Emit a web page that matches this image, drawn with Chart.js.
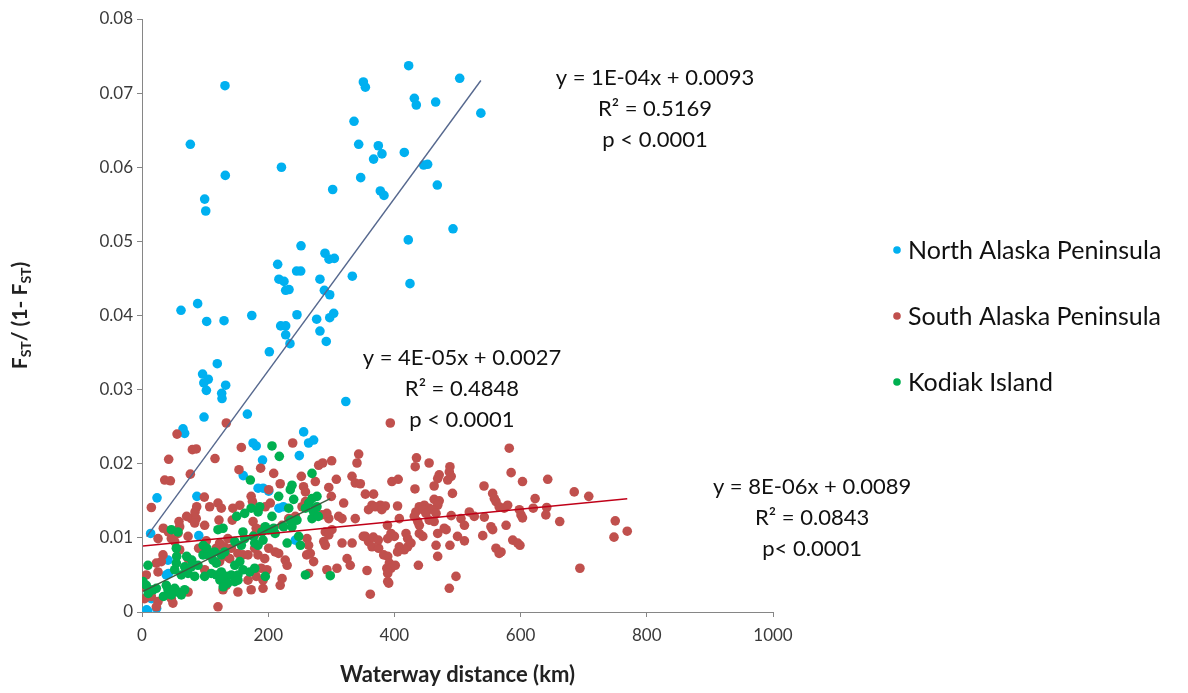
<!DOCTYPE html>
<html>
<head>
<meta charset="utf-8">
<script src="https://cdn.jsdelivr.net/npm/chart.js@4.4.1/dist/chart.umd.min.js"></script>
<style>
  html, body { margin: 0; padding: 0; background: #ffffff; }
  #wrap { width: 1188px; height: 693px; position: relative; }
</style>
</head>
<body>
<div id="wrap"><canvas id="chart" width="1188" height="693"></canvas></div>
<script>
// Pairwise genetic differentiation, FST/(1-FST), against waterway distance (km)
const seriesNames = ['North Alaska Peninsula', 'South Alaska Peninsula', 'Kodiak Island'];

const northPoints = [
  [131.5,0.0710],[76.6,0.0631],[132,0.0589],[221,0.0600],[99.3,0.0557],[101,0.0541],[350.8,0.0715],[354,0.0708],
  [422.6,0.0737],[503.5,0.0720],[431.6,0.0693],[434.7,0.0684],[465.4,0.0688],[537,0.0673],[336,0.0662],[343.4,0.0631],
  [374.5,0.0629],[380.3,0.0618],[367,0.0611],[415.7,0.0620],[446.4,0.0603],[452.7,0.0604],[468,0.0576],[346.6,0.0586],
  [302.2,0.0570],[377.7,0.0568],[383.5,0.0562],[492.9,0.0517],[422,0.0502],[424.7,0.0443],[252,0.0494],[290,0.0484],
  [296.4,0.0476],[304.8,0.0477],[215,0.0469],[245,0.0460],[251.5,0.0460],[333.3,0.0453],[217,0.0449],[225,0.0446],
  [282,0.0449],[227.7,0.0434],[233,0.0435],[289,0.0434],[297.5,0.0428],[61.8,0.0407],[88.2,0.0416],[102.5,0.0392],
  [130,0.0393],[174,0.0400],[245.6,0.0401],[276.8,0.0395],[297.5,0.0397],[303.8,0.0403],[219.8,0.0386],[227.7,0.0386],
  [227.7,0.0374],[282,0.0379],[234.5,0.0362],[292,0.0365],[201.8,0.0351],[119.3,0.0335],[96,0.0321],[105,0.0314],
  [98,0.0309],[132.6,0.0306],[102,0.0299],[126.3,0.0295],[126.8,0.0288],[323,0.0284],[98.3,0.0263],[167,0.0267],
  [65,0.0247],[67.6,0.0241],[176,0.0228],[181,0.0224],[191,0.0205],[256.2,0.0243],[264,0.0228],[272,0.0232],
  [249.3,0.0211],[160.5,0.0184],[23.8,0.0154],[87,0.0156],[184,0.0167],[192,0.0167],[200.8,0.0163],[217,0.0140],
  [224,0.0142],[243,0.0097],[90,0.0103],[42,0.0052],[38.5,0.0050],[41.2,0.0070],[13.7,0.0106],[7.4,0.0003],
  [23.2,0.0005],[9,0.0001],[14.8,0.0018]
];

const southPoints = [
  [133.6,0.0255],[55.5,0.0240],[79.8,0.0219],[86,0.0220],[42.3,0.0206],[115.7,0.0207],[76.6,0.0186],[36,0.0178],
  [45,0.0177],[153.7,0.0192],[188,0.0194],[14.8,0.0141],[98.8,0.0155],[86.7,0.0142],[107.3,0.0142],[120.4,0.0147],
  [144,0.0140],[155,0.0144],[173,0.0156],[175,0.0149],[157.4,0.0222],[238.8,0.0228],[208.7,0.0187],[280,0.0198],
  [286.4,0.0201],[300.6,0.0204],[252.5,0.0183],[274.7,0.0176],[308,0.0179],[219,0.0173],[256,0.0169],[259,0.0162],
  [296,0.0168],[300,0.0156],[343.4,0.0213],[340.7,0.0201],[332.8,0.0183],[338,0.0174],[346,0.0173],[393.5,0.0255],
  [396,0.0176],[354,0.0159],[367,0.0159],[319.6,0.0147],[364.5,0.0144],[377.7,0.0144],[385.6,0.0143],[200.8,0.0165],
  [195.4,0.0142],[203.3,0.0147],[253.6,0.0142],[259,0.0149],[359,0.0138],[125.7,0.0140],[58.6,0.0122],[59.7,0.0115],
  [78,0.0126],[86,0.0126],[83.5,0.0120],[99.3,0.0117],[122,0.0124],[143,0.0124],[176,0.0122],[181,0.0113],
  [178.6,0.0104],[25.4,0.0099],[46.5,0.0099],[51.8,0.0095],[57,0.0106],[73,0.0102],[102,0.0096],[59.7,0.0084],
  [33.3,0.0077],[30.6,0.0068],[73,0.0072],[89.8,0.0086],[117.7,0.0086],[123,0.0093],[131,0.0088],[136,0.0099],
  [141.5,0.0086],[133.6,0.0075],[139,0.0072],[152,0.0079],[160,0.0077],[168,0.0077],[178.6,0.0086],[183.8,0.0077],
  [189,0.0059],[194.5,0.0072],[123,0.0068],[99.3,0.0057],[6.8,0.0050],[25.4,0.0054],[22.7,0.0066],[133.6,0.0036],
  [128.4,0.0030],[152,0.0027],[168,0.0043],[181,0.0048],[173,0.0030],[191.8,0.0032],[73,0.0027],[46.5,0.0018],
  [49,0.0012],[4.2,0.0018],[14.8,0.0021],[120.4,0.0007],[25.4,0.0014],[22.7,0.0007],[1.6,0.0034],[191.8,0.0043],
  [311.7,0.0129],[317,0.0126],[338,0.0126],[369.7,0.0142],[380,0.0138],[296,0.0126],[293,0.0133],[290.5,0.0108],
  [296,0.0104],[301,0.0111],[288,0.0095],[290.5,0.0090],[317,0.0093],[333,0.0093],[354,0.0102],[359,0.0095],
  [364.5,0.0088],[375,0.0086],[383,0.0077],[266.7,0.0079],[272,0.0068],[325,0.0072],[330,0.0063],[309,0.0059],
  [293,0.0057],[356.6,0.0056],[388,0.0059],[391,0.0039],[361.8,0.0024],[222,0.0045],[219,0.0036],[264,0.0052],
  [198,0.0057],[200.8,0.0086],[211,0.0081],[216.6,0.0079],[227,0.0070],[230,0.0063],[261.5,0.0099],[264,0.0090],
  [222,0.0117],[232.5,0.0126],[243,0.0129],[285,0.0131],[193,0.0113],[261,0.0077],[33.8,0.0113],[41.7,0.0108],
  [70.8,0.0129],[84,0.0135],[350.7,0.0102],[366.6,0.0101],[374.5,0.0097],
  [582,0.0221],[585,0.0188],[603,0.0176],[435,0.0208],[433,0.0196],[455,0.0201],[488,0.0196],[487,0.0189],
  [471,0.0185],[468.6,0.0180],[490,0.0183],[484.5,0.0178],[406,0.0179],[432.6,0.0166],[463,0.0170],[492,0.0160],
  [542,0.0170],[555.7,0.0160],[558.4,0.0153],[561,0.0149],[566,0.0142],[574,0.0140],[579.5,0.0144],[598,0.0138],
  [600.6,0.0131],[463,0.0152],[471,0.0150],[468.6,0.0144],[405,0.0143],[439.5,0.0142],[447.4,0.0144],[455.3,0.0140],
  [434,0.0135],[445,0.0138],[450,0.0133],[460.7,0.0138],[466,0.0133],[407.8,0.0126],[431.5,0.0129],[437,0.0122],
  [439.5,0.0117],[455,0.0124],[463,0.0122],[490,0.0130],[505.5,0.0126],[511,0.0117],[518.7,0.0135],[526.6,0.0129],
  [542.5,0.0128],[577,0.0117],[389,0.0117],[394.6,0.0106],[400,0.0102],[389.4,0.0099],[418.4,0.0106],[421,0.0099],
  [439.5,0.0106],[445,0.0102],[468.6,0.0106],[479,0.0113],[482,0.0111],[500,0.0102],[511,0.0096],[553,0.0115],
  [555.7,0.0111],[540,0.0103],[587.5,0.0097],[595.4,0.0093],[561,0.0086],[569,0.0081],[566,0.0079],[466,0.0090],
  [468.6,0.0075],[488,0.0090],[407.8,0.0088],[415.7,0.0084],[421,0.0088],[426.3,0.0093],[405,0.0081],[389.4,0.0075],
  [392,0.0066],[394.6,0.0059],[389.4,0.0052],[401.4,0.0063],[438,0.0063],[389.4,0.0041],[497.6,0.0048],[487,0.0032],
  [643,0.0179],[685,0.0162],[708,0.0156],[623,0.0153],[620,0.0140],[641.4,0.0141],[640,0.0131],[603,0.0127],
  [662,0.0122],[750,0.0123],[769,0.0109],[748,0.0101],[694,0.0059],[599,0.0090]
];

const kodiakPoints = [
  [171.7,0.0178],[206,0.0224],[217.6,0.0210],[269.4,0.0187],[237.7,0.0171],[235,0.0165],[216.6,0.0156],[240.4,0.0152],
  [269.4,0.0153],[277.3,0.0156],[264.2,0.0147],[277.3,0.0142],[232.5,0.0140],[46.5,0.0111],[57,0.0108],[128.4,0.0113],
  [120.4,0.0111],[160,0.0108],[162.7,0.0099],[54.4,0.0086],[96.7,0.0077],[104.6,0.0077],[112.5,0.0070],[117.7,0.0066],
  [67.6,0.0061],[78,0.0061],[88.7,0.0063],[54.4,0.0066],[51.8,0.0057],[62.3,0.0050],[73,0.0052],[83.5,0.0048],
  [99.3,0.0048],[109.8,0.0052],[117.7,0.0050],[125.7,0.0054],[133.6,0.0048],[141.5,0.0050],[136,0.0039],[147,0.0041],
  [147,0.0063],[155,0.0068],[160,0.0057],[170.7,0.0054],[178.6,0.0059],[152,0.0050],[152,0.0043],[9.5,0.0063],
  [1.6,0.0041],[6.8,0.0036],[38.5,0.0036],[41.2,0.0030],[51.8,0.0032],[57,0.0027],[67.6,0.0030],[22.7,0.0032],
  [17.4,0.0030],[46.5,0.0023],[62.3,0.0023],[162.7,0.0133],[173,0.0140],[184,0.0135],[186.5,0.0142],[147,0.0095],
  [157.4,0.0090],[178.6,0.0093],[183.8,0.0090],[191.8,0.0097],[115,0.0081],[125.7,0.0077],[131,0.0081],[195.4,0.0115],
  [200.8,0.0111],[208.7,0.0113],[211,0.0106],[224.5,0.0115],[237.7,0.0115],[245.6,0.0124],[235,0.0124],[230,0.0093],
  [251,0.0090],[248.3,0.0102],[269.4,0.0126],[274.7,0.0140],[259,0.0140],[259,0.0050],[298.4,0.0049],[195.4,0.0048],
  [206,0.0129],[150,0.0129],[176.4,0.0102],[190,0.0108],[271.5,0.0136],[279.4,0.0129],[97,0.0090],[102.6,0.0086],
  [70.8,0.0075],[78.8,0.0070],[55,0.0075],[123.6,0.0043],[128.8,0.0034],[10,0.0025],[34,0.0021]
];

// Linear trend for each group: y = slope * x + intercept
const fitSlopes = [1.162e-4, 8.3e-6, 4.22e-5];
const fitIntercepts = [0.0093, 0.0089, 0.0027];
const fitLabels = [
  ['y = 1E-04x + 0.0093', 'R² = 0.5169', 'p < 0.0001'],
  ['y = 8E-06x + 0.0089', 'R² = 0.0843', 'p< 0.0001'],
  ['y = 4E-05x + 0.0027', 'R² = 0.4848', 'p < 0.0001']
];
// where each equation block sits, in axis units (x km, y value of first line)
const fitLabelAnchors = [[813, 0.0720], [1062, 0.01686], [507, 0.0343]];

const xTicks = [0, 200, 400, 600, 800, 1000];
const yTicks = [0, 0.01, 0.02, 0.03, 0.04, 0.05, 0.06, 0.07, 0.08];

const pointColors = ['#00B0F0', '#C0504D', '#00B050'];
const trendColors = ['#56688E', '#C00018', '#3F5A3F'];
const groups = [northPoints, southPoints, kodiakPoints];

function trendEnds(points, i) {
  const xs = points.map(p => p[0]);
  const x0 = Math.min(...xs), x1 = Math.max(...xs);
  return [x0, x1].map(x => ({ x: x, y: fitSlopes[i] * x + fitIntercepts[i] }));
}

const scatterOrder = [3, 2, 1];
const datasets = [];
groups.forEach((pts, i) => {
  datasets.push({
    type: 'scatter',
    label: seriesNames[i],
    data: pts.map(p => ({ x: p[0], y: p[1] })),
    backgroundColor: pointColors[i],
    borderColor: pointColors[i],
    borderWidth: 0,
    pointRadius: 4.8,
    pointHoverRadius: 4.8,
    order: scatterOrder[i]
  });
});
groups.forEach((pts, i) => {
  datasets.push({
    type: 'line',
    label: seriesNames[i] + ' trend',
    data: trendEnds(pts, i),
    borderColor: trendColors[i],
    borderWidth: 1.4,
    pointRadius: 0,
    fill: false,
    order: 0
  });
});

const FONT = 'Lato, Carlito, Calibri, "Open Sans", sans-serif';

const decorPlugin = {
  id: 'decor',
  afterDraw(chart) {
    const { ctx, chartArea, scales } = chart;
    const xs = scales.x, ys = scales.y;
    ctx.save();

    // regression equations
    ctx.fillStyle = '#111111';
    ctx.font = '22px ' + FONT;
    ctx.textAlign = 'center';
    ctx.textBaseline = 'middle';
    fitLabels.forEach((lines, i) => {
      const cx = xs.getPixelForValue(fitLabelAnchors[i][0]);
      const cy = ys.getPixelForValue(fitLabelAnchors[i][1]);
      lines.forEach((t, k) => ctx.fillText(t, cx, cy + k * 31));
    });

    // legend
    ctx.textAlign = 'left';
    ctx.font = '25px ' + FONT;
    seriesNames.forEach((name, i) => {
      const ly = 250 + i * 66;
      ctx.beginPath();
      ctx.fillStyle = pointColors[i];
      ctx.arc(897, ly, 3.8, 0, Math.PI * 2);
      ctx.fill();
      ctx.fillStyle = '#111111';
      ctx.fillText(name, 908, ly + 1);
    });

    // x axis title
    ctx.textAlign = 'center';
    ctx.fillStyle = '#222222';
    ctx.font = 'bold 22px ' + FONT;
    ctx.fillText('Waterway distance (km)', (chartArea.left + chartArea.right) / 2, 675);

    // y axis title with subscripts: FST/ (1- FST)
    const parts = [
      ['F', 21, 0], ['ST', 14, 6], ['/ (1- F', 21, 0], ['ST', 14, 6], [')', 21, 0]
    ];
    let total = 0;
    parts.forEach(p => { ctx.font = 'bold ' + p[1] + 'px ' + FONT; total += ctx.measureText(p[0]).width; });
    ctx.translate(20, (chartArea.top + chartArea.bottom) / 2);
    ctx.rotate(-Math.PI / 2);
    ctx.textAlign = 'left';
    let px = -total / 2;
    parts.forEach(p => {
      ctx.font = 'bold ' + p[1] + 'px ' + FONT;
      ctx.fillText(p[0], px, p[2]);
      px += ctx.measureText(p[0]).width;
    });
    ctx.restore();
  }
};

new Chart(document.getElementById('chart'), {
  data: { datasets: datasets },
  options: {
    responsive: false,
    animation: false,
    devicePixelRatio: 1,
    layout: { padding: { left: 0, top: 19, right: 415, bottom: 0 } },
    plugins: { legend: { display: false }, tooltip: { enabled: false } },
    scales: {
      x: {
        type: 'linear',
        min: xTicks[0],
        max: xTicks[xTicks.length - 1],
        afterBuildTicks: s => { s.ticks = xTicks.map(v => ({ value: v })); },
        afterFit: s => { s.height = 81; },
        grid: { display: true, drawOnChartArea: false, drawTicks: true, tickLength: 5, color: '#868686' },
        border: { display: true, color: '#868686', width: 1 },
        ticks: {
          color: '#3a3a3a',
          font: { family: FONT, size: 17 },
          padding: 8,
          callback: v => String(v)
        }
      },
      y: {
        type: 'linear',
        min: yTicks[0],
        max: yTicks[yTicks.length - 1],
        afterBuildTicks: s => { s.ticks = yTicks.map(v => ({ value: v })); },
        afterFit: s => { s.width = 142; },
        grid: { display: true, drawOnChartArea: false, drawTicks: true, tickLength: 5, color: '#868686' },
        border: { display: true, color: '#868686', width: 1 },
        ticks: {
          color: '#3a3a3a',
          font: { family: FONT, size: 17 },
          padding: 4,
          callback: v => (v === 0 ? '0' : Number(v).toFixed(2))
        }
      }
    }
  },
  plugins: [decorPlugin]
});
</script>
</body>
</html>
